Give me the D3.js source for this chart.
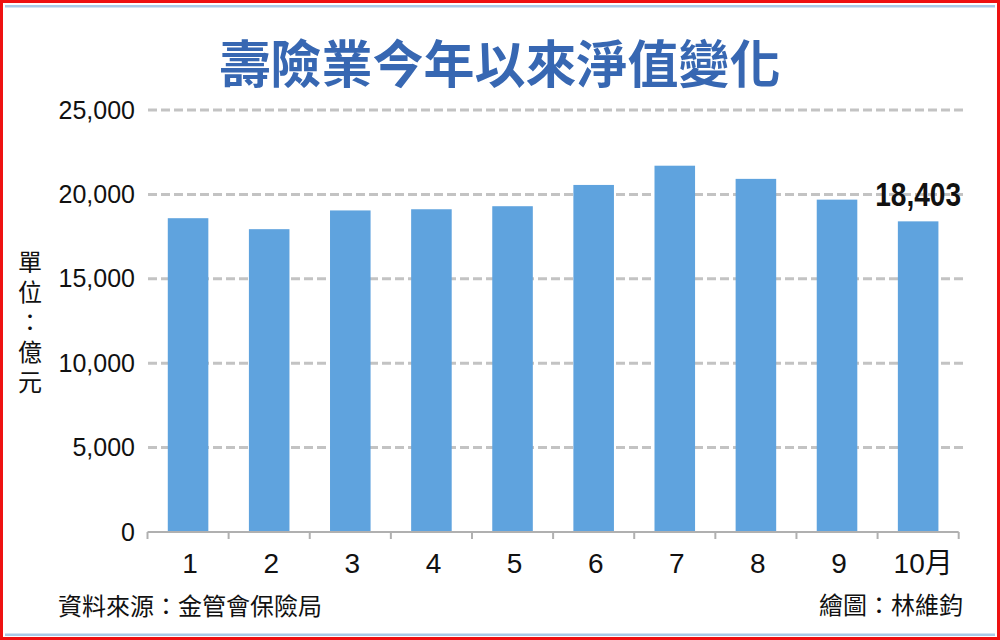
<!DOCTYPE html>
<html>
<head>
<meta charset="utf-8">
<script src="https://cdn.jsdelivr.net/npm/d3@7"></script>
<style>
  html, body { margin: 0; padding: 0; background: #fff; }
  svg { display: block; }
</style>
</head>
<body>
<svg id="chart" width="1000" height="640"></svg>
<script>
const months = ["1", "2", "3", "4", "5", "6", "7", "8", "9", "10月"];
const netValues = [18590, 17940, 19050, 19120, 19300, 20560, 21700, 20920, 19690, 18403];
const yTicks = [0, 5000, 10000, 15000, 20000, 25000];
const titleText = "壽險業今年以來淨值變化";
const unitText = "單位：億元";
const sourceText = "資料來源：金管會保險局";
const creditText = "繪圖：林維鈞";
const highlightLabel = "18,403";

const svg = d3.select("#chart");
const CJK = "'Noto Sans CJK TC', 'Noto Sans CJK SC', sans-serif";
const LAT = "'Liberation Sans', Arial, sans-serif";

// frame
svg.append("rect").attr("x", 0).attr("y", 0).attr("width", 1000).attr("height", 640).attr("fill", "#fff");
svg.append("rect").attr("x", 1.5).attr("y", 1.5).attr("width", 997).attr("height", 637)
  .attr("fill", "none").attr("stroke", "#ee1111").attr("stroke-width", 3);
svg.append("rect").attr("x", 5).attr("y", 5).attr("width", 990).attr("height", 2.5).attr("fill", "#a9c9e6");
svg.append("rect").attr("x", 5).attr("y", 633.5).attr("width", 990).attr("height", 2.5).attr("fill", "#a9c9e6");

// title
svg.append("text").attr("x", 500).attr("y", 61)
  .attr("text-anchor", "middle").attr("dominant-baseline", "central")
  .style("font-family", CJK).style("font-weight", 700).style("font-size", "51px")
  .attr("fill", "#3767b2").text(titleText);

// scales
const y = d3.scaleLinear().domain([0, 25000]).range([532, 110]);
const x = d3.scaleBand().domain(months).range([147.5, 958.7]).paddingInner(0).paddingOuter(0);
const bw = x.bandwidth() * 0.5;

// gridlines
svg.append("g").selectAll("line").data(yTicks.filter(d => d > 0)).join("line")
  .attr("x1", 148).attr("x2", 967)
  .attr("y1", d => y(d)).attr("y2", d => y(d))
  .attr("stroke", "#c3c3c3").attr("stroke-width", 3).attr("stroke-dasharray", "9,4");

// y axis labels
const yAxis = d3.axisLeft(y).tickValues(yTicks).tickSize(0).tickPadding(0)
  .tickFormat(d3.format(","));
const gy = svg.append("g").attr("transform", "translate(135,0)").call(yAxis);
gy.select(".domain").remove();
gy.selectAll("text").style("font-family", LAT).style("font-size", "25px").attr("fill", "#111");

// bars
svg.append("g").selectAll("rect").data(netValues).join("rect")
  .attr("x", (d, i) => x(months[i]) + (x.bandwidth() - bw) / 2)
  .attr("width", bw)
  .attr("y", d => y(d))
  .attr("height", d => y(0) - y(d))
  .attr("fill", "#5fa3de");

// x axis line and boundary ticks
const axisG = svg.append("g");
axisG.append("line").attr("x1", x.range()[0]).attr("x2", x.range()[1])
  .attr("y1", y(0)).attr("y2", y(0)).attr("stroke", "#b0b0b0").attr("stroke-width", 2);
const bounds = months.map(m => x(m)).concat([x(months[months.length - 1]) + x.step()]);
axisG.selectAll("line.tk").data(bounds).join("line").attr("class", "tk")
  .attr("x1", d => d).attr("x2", d => d)
  .attr("y1", y(0)).attr("y2", y(0) + 7)
  .attr("stroke", "#b0b0b0").attr("stroke-width", 2);

// x labels
const xAxis = d3.axisBottom(x).tickSize(0).tickPadding(0);
const gx = svg.append("g").attr("transform", "translate(0,563)").call(xAxis);
gx.select(".domain").remove();
gx.selectAll("text").attr("dy", null).attr("dominant-baseline", "central")
  .style("font-family", (d) => d.indexOf("月") >= 0 ? LAT + ", " + CJK : LAT)
  .style("font-size", "28px").attr("fill", "#111")
  .attr("dx", d => d.indexOf("月") >= 0 ? 5 : 2);

// highlight label on last bar
const lastI = netValues.length - 1;
svg.append("text")
  .attr("x", x(months[lastI]) + x.bandwidth() / 2)
  .attr("y", y(netValues[lastI]) - 15)
  .attr("text-anchor", "middle")
  .attr("textLength", 86).attr("lengthAdjust", "spacingAndGlyphs")
  .style("font-family", LAT)
  .style("font-weight", 700).style("font-size", "33px").attr("fill", "#111")
  .text(highlightLabel);

// unit label (vertical)
svg.append("text")
  .attr("x", 30).attr("y", 250)
  .attr("writing-mode", "vertical-rl")
  .style("writing-mode", "vertical-rl")
  .style("font-family", CJK).style("font-size", "24px").style("letter-spacing", "6px")
  .attr("fill", "#111")
  .text(unitText);

// footer
svg.append("text").attr("x", 58).attr("y", 604).attr("dominant-baseline", "central")
  .style("font-family", CJK).style("font-size", "24px").attr("fill", "#111").text(sourceText);
svg.append("text").attr("x", 963).attr("y", 603).attr("text-anchor", "end").attr("dominant-baseline", "central")
  .style("font-family", CJK).style("font-size", "24px").attr("fill", "#111").text(creditText);
</script>
</body>
</html>
